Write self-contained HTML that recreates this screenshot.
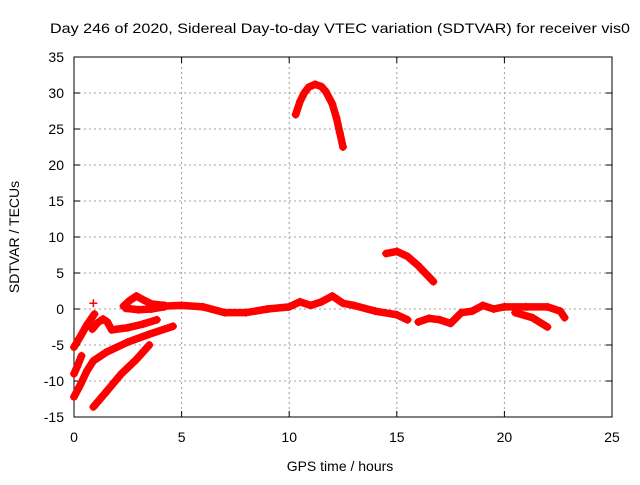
<!DOCTYPE html>
<html><head><meta charset="utf-8"><style>
body{margin:0;background:#fff}
svg text{font-family:"Liberation Sans",sans-serif;font-size:14px;fill:#000}
</style></head><body>
<svg id="chart" width="640" height="480">
<text x="50" y="33" textLength="580" lengthAdjust="spacingAndGlyphs" font-size="15">Day 246 of 2020, Sidereal Day-to-day VTEC variation (SDTVAR) for receiver vis0</text>
<g id="grid"></g>
<rect x="74" y="57" width="538" height="360" fill="none" stroke="#000"/>
<g id="ticks"></g>
<g id="series"></g>
<text x="340" y="471" text-anchor="middle">GPS time / hours</text>
<text transform="translate(19,237) rotate(-90)" text-anchor="middle">SDTVAR / TECUs</text>
</svg>
<script>
const xTicks=[0,5,10,15,20,25];
const yTicks=[-15,-10,-5,0,5,10,15,20,25,30,35];
const trackA=[[0,-5.3],[0.3,-3.8],[0.6,-2.2],[0.95,-0.7]];
const trackB=[[0,-9],[0.15,-8],[0.35,-6.5]];
const trackC=[[0,-12.2],[0.3,-10.5],[0.6,-8.6],[0.9,-7.2],[1.5,-6],[2.5,-4.6],[3.5,-3.5],[4.6,-2.4]];
const trackD=[[0.9,-13.6],[1.5,-11.5],[2.2,-9],[2.9,-7],[3.5,-5]];
const trackE=[[0.85,-2.8],[1.1,-1.9],[1.35,-1.4],[1.55,-1.8],[1.75,-2.9],[2.5,-2.6],[3.2,-2.1],[3.85,-1.5]];
const trackLoopUp=[[2.3,0.4],[2.6,1.2],[2.9,1.8],[3.2,1.3],[3.6,0.7],[4.2,0.5]];
const trackLoopLow=[[2.4,0.1],[3,-0.1],[3.6,0],[4.2,0.3]];
const trackF=[[4.2,0.4],[5,0.5],[6,0.3],[7,-0.5],[8,-0.5],[9,0],[10,0.3],[10.5,1],[11,0.5],[11.5,1],[12,1.8],[12.5,0.8],[13,0.5],[14,-0.3],[15,-0.8],[15.5,-1.5]];
const trackF2=[[16,-1.8],[16.5,-1.3],[17,-1.5],[17.5,-2],[18,-0.5],[18.5,-0.3],[19,0.5],[19.5,0],[20,0.3],[21,0.3],[22,0.3],[22.6,-0.3],[22.8,-1.2]];
const trackF3=[[20.5,-0.5],[21.3,-1.2],[22,-2.5]];
const trackG=[[10.3,27],[10.5,28.8],[10.7,30],[10.9,30.8],[11.2,31.2],[11.5,30.9],[11.7,30.2],[12,28.5],[12.2,26.5],[12.35,24.5],[12.5,22.5]];
const trackH=[[14.5,7.7],[15,8],[15.5,7.3],[16,6],[16.7,3.8]];
const stray=[[0.9,0.8]];
const tracks=[trackA,trackB,trackC,trackD,trackE,trackLoopUp,trackLoopLow,trackF,trackF2,trackF3,trackG,trackH];
const X=h=>74+h*538/25, Y=v=>57+(35-v)*7.2;
const NS="http://www.w3.org/2000/svg";
const g=document.getElementById('grid'),t=document.getElementById('ticks'),s=document.getElementById('series');
function mk(tag,at,p){const e=document.createElementNS(NS,tag);for(const k in at)e.setAttribute(k,at[k]);p.appendChild(e);return e;}
xTicks.forEach(v=>{const x=X(v);
 if(v>0&&v<25){const l=mk('line',{x1:x,x2:x,y1:57,y2:417,stroke:'#a0a0a0','stroke-dasharray':'2,3'},g);
 
 }
 const tk=mk('text',{x:x,y:442,'text-anchor':'middle'},t);tk.textContent=v;
 
 
 mk('line',{x1:x,x2:x,y1:417,y2:411,stroke:'#000'},t);mk('line',{x1:x,x2:x,y1:57,y2:63,stroke:'#000'},t);});
yTicks.forEach(v=>{const y=Y(v);
 if(v>-15&&v<35){const l=mk('line',{x1:74,x2:612,y1:y,y2:y,stroke:'#a0a0a0','stroke-dasharray':'2,3'},g);
 
 }
 const tk=mk('text',{x:64,y:y+5,'text-anchor':'end'},t);tk.textContent=v;
 
 
 mk('line',{x1:74,x2:80,y1:y,y2:y,stroke:'#000'},t);mk('line',{x1:612,x2:606,y1:y,y2:y,stroke:'#000'},t);});
function plus(h,v){const x=X(h),y=Y(v);
 const p=mk('path',{d:`M${x-4} ${y}H${x+4}M${x} ${y-4}V${y+4}`,stroke:'#f00','stroke-width':1.5},s);
 
 }
tracks.forEach(tr=>{
 const pl=mk('polyline',{points:tr.map(p=>X(p[0])+','+Y(p[1])).join(' '),fill:'none',stroke:'#f00','stroke-width':7.5,'stroke-linejoin':'round','stroke-linecap':'round'},s);
 
 
 tr.forEach(p=>plus(p[0],p[1]));});
stray.forEach(p=>plus(p[0],p[1]));
</script>
</body></html>
